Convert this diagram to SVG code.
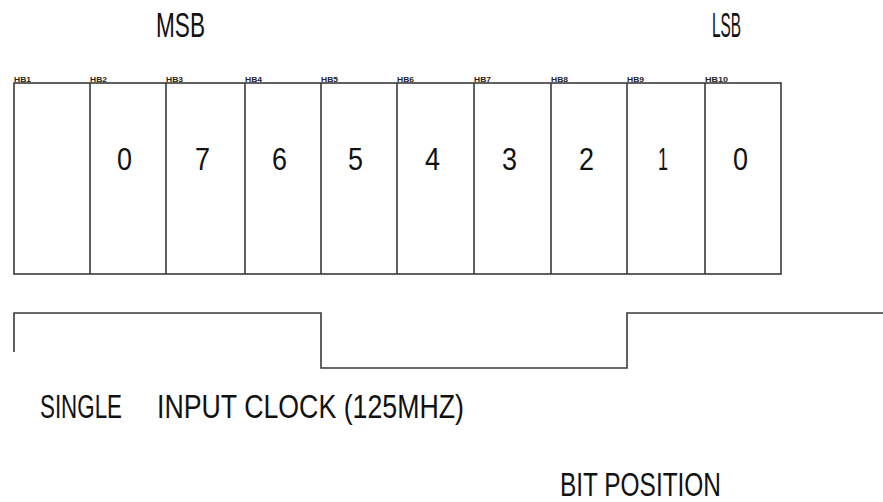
<svg xmlns="http://www.w3.org/2000/svg" width="883" height="502" viewBox="0 0 883 502">
<style>
.ln{fill:none;stroke:#3a3a3a;stroke-width:1.6}
.t{font-family:"Liberation Sans",Arial,sans-serif;fill:#111}
.hb{font-family:"Liberation Sans",Arial,sans-serif;font-size:8px;font-weight:bold;fill:#222}
.d{font-size:32px}
</style>
<rect width="883" height="502" fill="#fff"/>
<text class="t" x="156" y="37" font-size="35" textLength="49" lengthAdjust="spacingAndGlyphs">MSB</text>
<text class="t" x="712" y="37" font-size="35" textLength="29" lengthAdjust="spacingAndGlyphs">LSB</text>
<g id="register">
<rect class="ln" x="14" y="83" width="767" height="191"/>
<path class="ln" d="M90 83V274M166 83V274M245 83V274M321 83V274M397 83V274M474 83V274M551 83V274M627 83V274M705 83V274"/>
</g>
<g id="hb-labels">
<text class="hb" x="14" y="82" textLength="17" lengthAdjust="spacingAndGlyphs">HB1</text>
<text class="hb" x="90" y="82" textLength="17" lengthAdjust="spacingAndGlyphs">HB2</text>
<text class="hb" x="166" y="82" textLength="17" lengthAdjust="spacingAndGlyphs">HB3</text>
<text class="hb" x="245" y="82" textLength="17" lengthAdjust="spacingAndGlyphs">HB4</text>
<text class="hb" x="321" y="82" textLength="17" lengthAdjust="spacingAndGlyphs">HB5</text>
<text class="hb" x="397" y="82" textLength="17" lengthAdjust="spacingAndGlyphs">HB6</text>
<text class="hb" x="474" y="82" textLength="17" lengthAdjust="spacingAndGlyphs">HB7</text>
<text class="hb" x="551" y="82" textLength="17" lengthAdjust="spacingAndGlyphs">HB8</text>
<text class="hb" x="627" y="82" textLength="17" lengthAdjust="spacingAndGlyphs">HB9</text>
<text class="hb" x="705" y="82" textLength="23" lengthAdjust="spacingAndGlyphs">HB10</text>
</g>
<g id="bits">
<text class="t d" x="117" y="170" textLength="15" lengthAdjust="spacingAndGlyphs">0</text>
<text class="t d" x="195" y="170" textLength="15" lengthAdjust="spacingAndGlyphs">7</text>
<text class="t d" x="272" y="170" textLength="15" lengthAdjust="spacingAndGlyphs">6</text>
<text class="t d" x="348" y="170" textLength="15" lengthAdjust="spacingAndGlyphs">5</text>
<text class="t d" x="425" y="170" textLength="15" lengthAdjust="spacingAndGlyphs">4</text>
<text class="t d" x="502" y="170" textLength="15" lengthAdjust="spacingAndGlyphs">3</text>
<text class="t d" x="579" y="170" textLength="15" lengthAdjust="spacingAndGlyphs">2</text>
<text class="t d" x="658" y="170" textLength="10" lengthAdjust="spacingAndGlyphs">1</text>
<text class="t d" x="733" y="170" textLength="15" lengthAdjust="spacingAndGlyphs">0</text>
</g>
<g id="clock">
<path class="ln" d="M14 352V313H321V368H627V313H883"/>
</g>
<text class="t" x="40" y="418" font-size="34" textLength="82" lengthAdjust="spacingAndGlyphs">SINGLE</text>
<text class="t" x="157" y="418" font-size="34" textLength="307" lengthAdjust="spacingAndGlyphs">INPUT CLOCK (125MHZ)</text>
<text class="t" x="560" y="496" font-size="33" textLength="161" lengthAdjust="spacingAndGlyphs">BIT POSITION</text>
</svg>
